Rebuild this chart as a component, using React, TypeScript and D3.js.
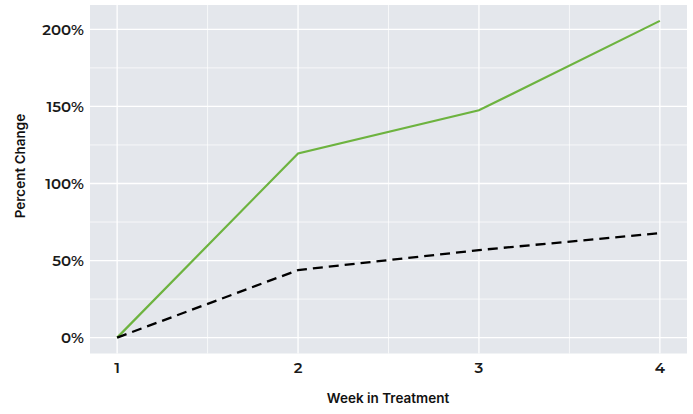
import React from "react";
import * as d3 from "d3";

const weeks = [1, 2, 3, 4];
const greenSeries = [0, 119.5, 147.5, 205.5];
const blackSeries = [0, 43.8, 56.8, 67.8];
const xTicks = [1, 2, 3, 4];
const xMinor = [1.5, 2.5, 3.5];
const yTicks = [0, 50, 100, 150, 200];
const yMinor = [25, 75, 125, 175];

const W = 693, H = 414;
const left = 90, right = 687, top = 5, bottom = 353.5;
const TICKFONT = "Montserrat, 'Open Sans', 'DejaVu Sans', sans-serif";
const TITLEFONT = "Inter, Roboto, 'DejaVu Sans', sans-serif";

export default function App() {
  const x = d3.scaleLinear().domain([0.85, 4.15]).range([left, right]);
  const y = d3.scaleLinear().domain([-10.3, 215.8]).range([bottom, top]);
  const line = d3.line<number>().x((_, i) => x(weeks[i])).y((d) => y(d));

  return (
    <svg width={W} height={H} style={{ position: "absolute", left: 0, top: 0 }}>
      <rect x={left} y={top} width={right - left} height={bottom - top} fill="#e4e7ec" />
      {yMinor.map((v) => (
        <line key={"ym" + v} x1={left} x2={right} y1={y(v)} y2={y(v)} stroke="#fff" strokeWidth={0.7} />
      ))}
      {xMinor.map((v) => (
        <line key={"xm" + v} x1={x(v)} x2={x(v)} y1={top} y2={bottom} stroke="#fff" strokeWidth={0.7} />
      ))}
      {yTicks.map((v) => (
        <line key={"y" + v} x1={left} x2={right} y1={y(v)} y2={y(v)} stroke="#fff" strokeWidth={1.3} />
      ))}
      {xTicks.map((v) => (
        <line key={"x" + v} x1={x(v)} x2={x(v)} y1={top} y2={bottom} stroke="#fff" strokeWidth={1.3} />
      ))}
      <path d={line(greenSeries) || ""} fill="none" stroke="#6db33f" strokeWidth={2.2} />
      <path d={line(blackSeries) || ""} fill="none" stroke="#000" strokeWidth={2.3} strokeDasharray="10,6" />
      {yTicks.map((v) => (
        <text key={"yl" + v} x={84} y={y(v)} dy="0.36em" textAnchor="end" fontFamily={TICKFONT} fontSize={15} fontWeight={600} fill="#1a1a1a">
          {v + "%"}
        </text>
      ))}
      {xTicks.map((v) => (
        <text key={"xl" + v} x={x(v)} y={373} textAnchor="middle" fontFamily={TICKFONT} fontSize={15} fontWeight={600} fill="#1a1a1a">
          {v}
        </text>
      ))}
      <text x={388} y={403} textAnchor="middle" fontFamily={TITLEFONT} fontSize={13.5} fontWeight={600} fill="#111">
        Week in Treatment
      </text>
      <text transform={`translate(25,166) rotate(-90)`} textAnchor="middle" fontFamily={TITLEFONT} fontSize={13.5} fontWeight={600} fill="#111">
        Percent Change
      </text>
    </svg>
  );
}
